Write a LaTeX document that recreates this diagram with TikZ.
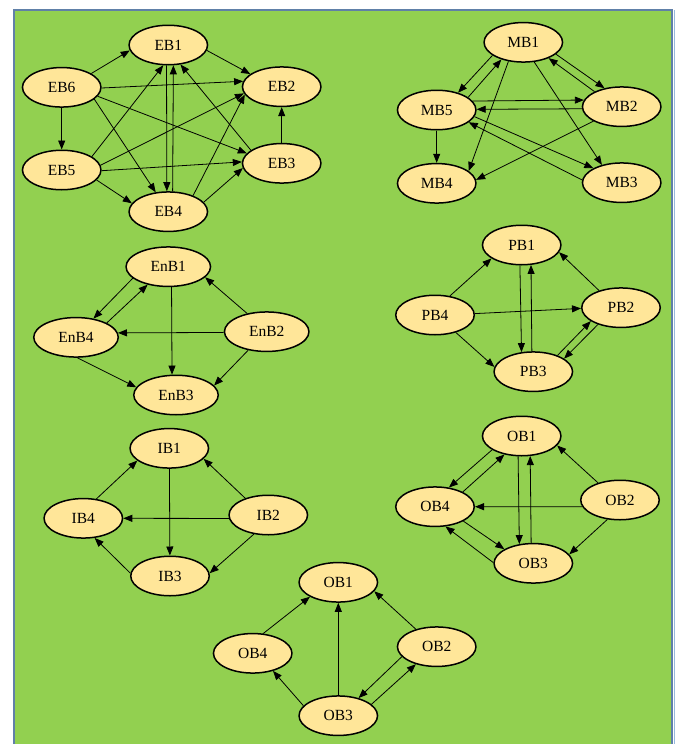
\documentclass[tikz,border=0pt]{standalone}
\usepackage{fontspec}
\setmainfont{Liberation Serif}
\usetikzlibrary{arrows.meta,shapes.geometric}
\definecolor{bggreen}{RGB}{146,208,80}
\definecolor{frameblue}{RGB}{96,128,168}
\definecolor{lightblue}{RGB}{150,185,220}
\definecolor{nodefill}{RGB}{255,230,153}
\begin{document}
\begin{tikzpicture}[x=1pt,y=-1pt,
  nd/.style={ellipse,draw=black,line width=1.5pt,fill=nodefill,minimum width=78.5pt,minimum height=39.5pt,inner sep=0pt,font=\fontsize{15.5}{18}\selectfont},
  wide/.style={minimum width=84.5pt},
  arr/.style={-{Triangle[length=9pt,width=7pt]},line width=0.8pt,draw=black}]

\useasboundingbox (0,0) rectangle (676,744);
\fill[white] (0,0) rectangle (676,744);
\fill[bggreen] (14,10) rectangle (672,744);
\draw[frameblue,line width=2pt] (14,744) -- (14,10) -- (672,10) -- (672,744);
\draw[lightblue,line width=1.5pt] (674.5,10) -- (674.5,744);

% EB group
\node[nd] (EB1) at (168.3,45) {EB1};
\node[nd] (EB2) at (281.7,86.7) {EB2};
\node[nd] (EB6) at (61.7,87.3) {EB6};
\node[nd] (EB5) at (61.7,170) {EB5};
\node[nd] (EB3) at (281.7,163.3) {EB3};
\node[nd] (EB4) at (168.3,211.7) {EB4};

\draw[arr] (EB6.25) -- (EB1.188);
\draw[arr] (EB1.352) -- (EB2.158);
\draw[arr] (EB6.359) -- (EB2.172);
\draw[arr] (EB6) -- (EB5);
\draw[arr] (EB6.340) -- (EB4.123);
\draw[arr] (EB6.346) -- (EB3.164);
\draw[arr] (EB5.24) -- (EB1.256);
\draw[arr] (EB5.7) -- (EB2.190);
\draw[arr] (EB5.359) -- (EB3.178);
\draw[arr] (EB5.344) -- (EB4.167);
\draw[arr] (EB1.265) -- (EB4.94);
\draw[arr] (EB4.78) -- (EB1.284);
\draw[arr] (EB3.157) -- (EB1.302);
\draw[arr] (EB3) -- (EB2);
\draw[arr] (EB4.33) -- (EB2.192);
\draw[arr] (EB4.15) -- (EB3.187);

% MB group
\node[nd] (MB1) at (523.3,42.3) {MB1};
\node[nd] (MB5) at (436.7,110) {MB5};
\node[nd] (MB2) at (621.7,106.7) {MB2};
\node[nd] (MB4) at (436.7,183.3) {MB4};
\node[nd] (MB3) at (621.7,182.7) {MB3};

\draw[arr] (MB1.203) -- (MB5.39);
\draw[arr] (MB5.22) -- (MB1.218);
\draw[arr] (MB1.340) -- (MB2.133);
\draw[arr] (MB2.151) -- (MB1.328);
\draw[arr] (MB5.14) -- (MB2.170);
\draw[arr] (MB2.183) -- (MB5.1);
\draw[arr] (MB5.350) -- (MB3.153);
\draw[arr] (MB3.176) -- (MB5.339);
\draw[arr] (MB1.232) -- (MB4.21);
\draw[arr] (MB1.299) -- (MB3.138);
\draw[arr] (MB2.207) -- (MB4.5);
\draw[arr] (MB5) -- (MB4);

% EnB group
\node[nd,wide] (EnB1) at (168.3,266.7) {EnB1};
\node[nd,wide] (EnB4) at (76,337.3) {EnB4};
\node[nd,wide] (EnB2) at (266.7,331.7) {EnB2};
\node[nd,wide] (EnB3) at (176,395) {EnB3};

\draw[arr] (EnB1.198) -- (EnB4.47);
\draw[arr] (EnB4.25) -- (EnB1.221);
\draw[arr] (EnB1.279) -- (EnB3.101);
\draw[arr] (EnB2.137) -- (EnB1.344);
\draw[arr] (EnB2.181) -- (EnB4.6);
\draw[arr] (EnB2.225) -- (EnB3.14);
\draw[arr] (EnB4.274) -- (EnB3.169);

% PB group
\node[nd] (PB1) at (521.7,245) {PB1};
\node[nd] (PB4) at (435,315) {PB4};
\node[nd] (PB2) at (621,307.7) {PB2};
\node[nd] (PB3) at (533.3,371.7) {PB3};

\draw[arr] (PB4.52) -- (PB1.204);
\draw[arr] (PB4.2) -- (PB2.181);
\draw[arr] (PB4.320) -- (PB3.173);
\draw[arr] (PB1.265) -- (PB3.121);
\draw[arr] (PB3.94) -- (PB1.295);
\draw[arr] (PB2.142) -- (PB1.349);
\draw[arr] (PB3.34) -- (PB2.204);
\draw[arr] (PB2.216) -- (PB3.23);

% IB group
\node[nd] (IB1) at (169.3,448.3) {IB1};
\node[nd] (IB4) at (83.3,518.3) {IB4};
\node[nd] (IB2) at (268.3,515) {IB2};
\node[nd] (IB3) at (170,576) {IB3};

\draw[arr] (IB4.56) -- (IB1.201);
\draw[arr] (IB2.144) -- (IB1.343);
\draw[arr] (IB1) -- (IB3);
\draw[arr] (IB2.185) -- (IB4.0);
\draw[arr] (IB2.233) -- (IB3.4);
\draw[arr] (IB3.176) -- (IB4.300);

% OB group (right)
\node[nd] (rOB1) at (521.7,436) {OB1};
\node[nd] (rOB4) at (435,506.7) {OB4};
\node[nd] (rOB2) at (620,500) {OB2};
\node[nd] (rOB3) at (533.3,563.3) {OB3};

\draw[arr] (rOB1.205) -- (rOB4.54);
\draw[arr] (rOB4.28) -- (rOB1.227);
\draw[arr] (rOB1.260) -- (rOB3.126);
\draw[arr] (rOB3.96) -- (rOB1.293);
\draw[arr] (rOB2.142) -- (rOB1.345);
\draw[arr] (rOB2.190) -- (rOB4.0);
\draw[arr] (rOB2.237) -- (rOB3.14);
\draw[arr] (rOB4.333) -- (rOB3.154);
\draw[arr] (rOB3.179) -- (rOB4.298);

% OB group (bottom)
\node[nd] (bOB1) at (338.3,582.3) {OB1};
\node[nd] (bOB4) at (252.7,653.3) {OB4};
\node[nd] (bOB2) at (436.7,646.7) {OB2};
\node[nd] (bOB3) at (338.3,715.7) {OB3};

\draw[arr] (bOB4.62) -- (bOB1.207);
\draw[arr] (bOB3) -- (bOB1);
\draw[arr] (bOB2.140) -- (bOB1.346);
\draw[arr] (bOB3.164) -- (bOB4.319);
\draw[arr] (bOB2.196) -- (bOB3.41);
\draw[arr] (bOB3.19) -- (bOB2.220);
\end{tikzpicture}
\end{document}
